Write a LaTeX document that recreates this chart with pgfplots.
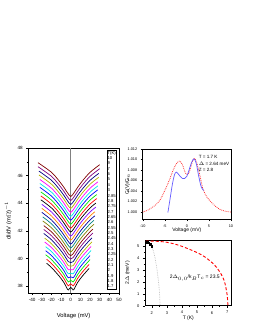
\documentclass[border=0pt]{standalone}
\usepackage{pgfplots}
\pgfplotsset{compat=1.18}
\usepackage{fontspec}
\setmainfont{Liberation Sans}
\definecolor{oblack}{RGB}{0,0,0}
\definecolor{ored}{RGB}{255,0,0}
\definecolor{ogreen}{RGB}{0,230,0}
\definecolor{oblue}{RGB}{0,0,255}
\definecolor{ocyan}{RGB}{0,230,230}
\definecolor{omagenta}{RGB}{255,0,255}
\definecolor{odkyellow}{RGB}{180,180,0}
\definecolor{onavy}{RGB}{0,0,128}
\definecolor{opurple}{RGB}{128,0,128}
\definecolor{owine}{RGB}{128,0,0}
\definecolor{oolive}{RGB}{128,128,0}
\definecolor{odkcyan}{RGB}{0,128,128}
\definecolor{oroyal}{RGB}{0,0,160}
\definecolor{oorange}{RGB}{255,128,0}
\definecolor{oviolet}{RGB}{128,0,255}
\definecolor{bluev}{RGB}{100,90,255}
\pgfplotsset{
  every axis/.append style={
    scale only axis,
    tick align=outside,
    xtick pos=left, ytick pos=left,
    major tick length=2pt, minor tick length=1pt,
    tick style={black, line width=0.4pt},
    axis line style={line width=0.5pt},
    /pgf/number format/assume math mode=true,
  },
  ln/.style={line width=0.7pt, no markers, smooth},
}
\begin{document}
\begin{tikzpicture}
\useasboundingbox (0pt,0pt) rectangle (255pt,330pt);
% ---------------- left panel ----------------
\begin{axis}[at={(28.3pt,37pt)}, anchor=south west, width=90.7pt, height=145pt,
  xmin=-44, xmax=50, ymin=37.5, ymax=48,
  xtick={-40,-30,...,50}, ytick={38,40,...,48}, minor y tick num=1,
  ticklabel style={font=\fontsize{4.6}{5}\selectfont},
  xlabel={Voltage (mV)}, ylabel={dI/dV (m$\Omega$)$^{-1}$},
  label style={font=\fontsize{5.8}{6.5}\selectfont},
  xlabel style={at={(axis description cs:0.5,-0.16)}, anchor=center},
  ylabel style={at={(axis description cs:-0.22,0.5)}, anchor=center},
]
\addplot[gray, line width=0.8pt] coordinates {(0,37.5) (0,48)};
\addplot[ln, oblack] coordinates {(-25,39.65) (-20,39.35) (-12,38.72) (-7,38.25) (-4,37.85) (-2.5,37.72) (0,37.90) (2.5,37.72) (4,37.85) (7,38.25) (12,38.72) (19,39.28)};
\addplot[ln, ored] coordinates {(-25,39.94) (-20,39.64) (-12,39.01) (-7,38.54) (-4,38.15) (-2.5,38.02) (0,38.16) (2.5,38.02) (4,38.15) (7,38.54) (12,39.01) (19,39.57)};
\addplot[ln, ogreen] coordinates {(-26,40.27) (-20,39.92) (-12,39.29) (-7,38.82) (-4,38.44) (-2.5,38.30) (0,38.41) (2.5,38.30) (4,38.44) (7,38.82) (12,39.29) (20,39.92)};
\addplot[ln, oblue] coordinates {(-26,40.56) (-20,40.21) (-12,39.58) (-7,39.11) (-4,38.73) (-2.5,38.60) (0,38.67) (2.5,38.60) (4,38.73) (7,39.11) (12,39.58) (20,40.21)};
\addplot[ln, ocyan] coordinates {(-26,40.85) (-20,40.50) (-12,39.87) (-7,39.40) (-4,39.03) (-2.5,38.89) (0,38.93) (2.5,38.89) (4,39.03) (7,39.40) (12,39.87) (20,40.50) (21,40.57)};
\addplot[ln, omagenta] coordinates {(-27,41.19) (-20,40.79) (-12,40.16) (-7,39.69) (-4,39.33) (-2.5,39.19) (0,39.19) (2.5,39.19) (4,39.33) (7,39.69) (12,40.16) (20,40.79) (21,40.86)};
\addplot[ln, odkyellow] coordinates {(-27,41.47) (-20,41.07) (-12,40.44) (-7,39.97) (-4,39.62) (-2.5,39.48) (0,39.44) (2.5,39.48) (4,39.62) (7,39.97) (12,40.44) (20,41.07) (22,41.20)};
\addplot[ln, onavy] coordinates {(-28,41.81) (-20,41.36) (-12,40.73) (-7,40.26) (-4,39.92) (-2.5,39.77) (0,39.70) (2.5,39.77) (4,39.92) (7,40.26) (12,40.73) (20,41.36) (22,41.49)};
\addplot[ln, opurple] coordinates {(-28,42.10) (-20,41.65) (-12,41.02) (-7,40.55) (-4,40.21) (-2.5,40.07) (0,39.96) (2.5,40.07) (4,40.21) (7,40.55) (12,41.02) (20,41.65) (23,41.84)};
\addplot[ln, owine] coordinates {(-28,42.38) (-20,41.93) (-12,41.30) (-7,40.83) (-4,40.50) (-2.5,40.35) (0,40.21) (2.5,40.35) (4,40.50) (7,40.83) (12,41.30) (20,41.93) (23,42.12)};
\addplot[ln, oolive] coordinates {(-29,42.72) (-20,42.22) (-12,41.59) (-7,41.12) (-4,40.80) (-2.5,40.65) (0,40.47) (2.5,40.65) (4,40.80) (7,41.12) (12,41.59) (20,42.22) (24,42.47)};
\addplot[ln, odkcyan] coordinates {(-29,43.01) (-20,42.51) (-12,41.88) (-7,41.41) (-4,41.09) (-2.5,40.94) (0,40.76) (2.5,40.94) (4,41.09) (7,41.41) (12,41.88) (20,42.51) (24,42.76)};
\addplot[ln, oroyal] coordinates {(-30,43.34) (-20,42.79) (-12,42.16) (-7,41.69) (-4,41.37) (-2.5,41.22) (0,41.04) (2.5,41.22) (4,41.37) (7,41.69) (12,42.16) (20,42.79) (25,43.09)};
\addplot[ln, oorange] coordinates {(-30,43.63) (-20,43.08) (-12,42.45) (-7,41.98) (-4,41.66) (-2.5,41.51) (0,41.33) (2.5,41.51) (4,41.66) (7,41.98) (12,42.45) (20,43.08) (25,43.38)};
\addplot[ln, oviolet] coordinates {(-30,43.92) (-20,43.37) (-12,42.74) (-7,42.27) (-4,41.95) (-2.5,41.80) (0,41.62) (2.5,41.80) (4,41.95) (7,42.27) (12,42.74) (20,43.37) (26,43.72)};
\addplot[ln, oblack] coordinates {(-31,44.25) (-20,43.66) (-12,43.03) (-7,42.56) (-4,42.24) (-2.5,42.09) (0,41.91) (2.5,42.09) (4,42.24) (7,42.56) (12,43.03) (20,43.66) (26,44.01)};
\addplot[ln, ored] coordinates {(-31,44.53) (-20,43.94) (-12,43.31) (-7,42.84) (-4,42.52) (-2.5,42.37) (0,42.19) (2.5,42.37) (4,42.52) (7,42.84) (12,43.31) (20,43.94) (27,44.34)};
\addplot[ln, ogreen] coordinates {(-31,44.82) (-20,44.23) (-12,43.60) (-7,43.13) (-4,42.81) (-2.5,42.66) (0,42.48) (2.5,42.66) (4,42.81) (7,43.13) (12,43.60) (20,44.23) (27,44.63)};
\addplot[ln, oblue] coordinates {(-32,45.15) (-20,44.52) (-12,43.89) (-7,43.42) (-4,43.10) (-2.5,42.95) (0,42.77) (2.5,42.95) (4,43.10) (7,43.42) (12,43.89) (20,44.52) (28,44.97)};
\addplot[ln, ocyan] coordinates {(-32,45.43) (-20,44.80) (-12,44.17) (-7,43.70) (-4,43.38) (-2.5,43.23) (0,43.05) (2.5,43.23) (4,43.38) (7,43.70) (12,44.17) (20,44.80) (28,45.25)};
\addplot[ln, omagenta] coordinates {(-32,45.72) (-20,45.09) (-12,44.46) (-7,43.99) (-4,43.67) (-2.5,43.52) (0,43.34) (2.5,43.52) (4,43.67) (7,43.99) (12,44.46) (20,45.09) (28,45.54)};
\addplot[ln, odkyellow] coordinates {(-33,46.05) (-20,45.38) (-12,44.75) (-7,44.28) (-4,43.96) (-2.5,43.81) (0,43.63) (2.5,43.81) (4,43.96) (7,44.28) (12,44.75) (20,45.38) (29,45.88)};
\addplot[ln, onavy] coordinates {(-33,46.33) (-20,45.66) (-12,45.03) (-7,44.56) (-4,44.24) (-2.5,44.09) (0,43.91) (2.5,44.09) (4,44.24) (7,44.56) (12,45.03) (20,45.66) (29,46.16)};
\addplot[ln, opurple] coordinates {(-34,46.65) (-20,45.95) (-12,45.32) (-7,44.85) (-4,44.53) (-2.5,44.38) (0,44.20) (2.5,44.38) (4,44.53) (7,44.85) (12,45.32) (20,45.95) (30,46.50)};
\addplot[ln, owine] coordinates {(-34,46.94) (-20,46.24) (-12,45.61) (-7,45.14) (-4,44.82) (-2.5,44.67) (0,44.49) (2.5,44.67) (4,44.82) (7,45.14) (12,45.61) (20,46.24) (30,46.79)};
\node[draw, line width=0.4pt, anchor=north east, align=left, inner sep=0.8pt, fill=white,
  font=\fontsize{4.2}{5.35}\selectfont] at (rel axis cs:0.975,0.985)
  {T(K)\\10\\9\\7\\6\\5\\4\\3\\2.85\\2.8\\2.75\\2.7\\2.65\\2.6\\2.55\\2.5\\2.45\\2.4\\2.3\\2.25\\2.2\\2.1\\2\\1.9\\1.8\\1.7};
\end{axis}
% ---------------- top right panel ----------------
\begin{axis}[at={(142.7pt,111pt)}, anchor=south west, width=88.3pt, height=70pt,
  xmin=-10, xmax=10, ymin=0.99868, ymax=1.012,
  xtick={-10,-5,0,5,10}, ytick={1.000,1.002,...,1.012},
  minor x tick num=1, minor y tick num=1,
  yticklabel style={/pgf/number format/.cd, fixed, fixed zerofill, precision=3},
  scaled y ticks=false,
  ticklabel style={font=\fontsize{3.8}{4.2}\selectfont},
  xlabel={Voltage (mV)}, ylabel={G(V)/G$_n$},
  label style={font=\fontsize{5}{6}\selectfont},
  xlabel style={at={(axis description cs:0.5,-0.16)}, anchor=center},
  ylabel style={at={(axis description cs:-0.17,0.5)}, anchor=center},
]
\addplot[red!80, densely dotted, line width=0.8pt, smooth] coordinates {
 (-10,1.0000) (-9,1.0003) (-8,1.0008) (-7,1.0014) (-6,1.0024) (-5,1.0041) (-4,1.0060) (-3,1.0082)
 (-2.2,1.0094) (-1.6,1.0097) (-1,1.0090) (-0.3,1.0074) (0.3,1.0072) (0.8,1.0083) (1.3,1.0097)
 (1.7,1.0102) (2.2,1.0095) (3,1.0068) (3.6,1.0045) (4.5,1.0029) (5.5,1.0019) (6.5,1.0011)
 (7.5,1.0005) (8.5,1.0002) (10,1.0000)};
\addplot[bluev, line width=0.7pt, smooth] coordinates {
 (-4.3,0.9999) (-3.8,1.0025) (-3.3,1.0052) (-2.8,1.0071) (-2.4,1.0076) (-2,1.0073) (-1.5,1.0068)
 (-1,1.0064) (-0.5,1.0064) (0,1.0068) (0.5,1.0080) (1,1.0093) (1.5,1.0101) (1.8,1.0100)
 (2.2,1.0090) (2.6,1.0072) (3,1.0056) (3.3,1.0047) (3.8,1.0041)};
\node[anchor=west, font=\fontsize{4.6}{5}\selectfont, inner sep=0pt] at (axis cs:2.65,1.01057) {T = 1.7 K};
\node[anchor=west, font=\fontsize{4.6}{5}\selectfont, inner sep=0pt] at (axis cs:2.65,1.00925) {$\Delta$ = 2.64 meV};
\node[anchor=west, font=\fontsize{4.6}{5}\selectfont, inner sep=0pt] at (axis cs:2.65,1.00811) {Z = 2.8};
\end{axis}
% ---------------- bottom right panel ----------------
\begin{axis}[at={(145pt,24.3pt)}, anchor=south west, width=86.7pt, height=65.7pt,
  xmin=1.55, xmax=7.3, ymin=0, ymax=5.5,
  xtick={2,3,...,7}, ytick={0,1,...,5},
  minor x tick num=1, minor y tick num=1,
  ticklabel style={font=\fontsize{4}{4.5}\selectfont},
  xlabel={T (K)}, ylabel={2$\Delta$ (meV)},
  label style={font=\fontsize{5}{6}\selectfont},
  xlabel style={at={(axis description cs:0.5,-0.19)}, anchor=center},
  ylabel style={at={(axis description cs:-0.2,0.5)}, anchor=center},
]
\addplot[red, densely dashed, line width=0.9pt, smooth] coordinates {
 (1.6,5.42) (2,5.41) (2.5,5.38) (3,5.31) (3.5,5.17) (4,4.97) (4.5,4.72) (5,4.45) (5.5,4.1)
 (6,3.6) (6.3,3.2) (6.6,2.65) (6.8,2.1) (6.9,1.6) (7.0,0.9) (7.05,0)};
\addplot[gray!50, densely dotted, line width=0.7pt, smooth] coordinates {
 (2.0,4.9) (2.1,4.6) (2.2,4.1) (2.3,3.4) (2.4,2.5) (2.5,1.3) (2.55,0)};
\addplot[only marks, mark=square*, mark size=0.8pt, black] coordinates {
 (1.7,5.3) (1.8,5.28) (1.9,5.15) (2.0,5.0)};
\node[font=\fontsize{5}{6}\selectfont] at (axis cs:4.85,2.31) {2$\Delta_{0,0}$/k$_B$T$_c$ = 23.5};
\end{axis}
\end{tikzpicture}
\end{document}
